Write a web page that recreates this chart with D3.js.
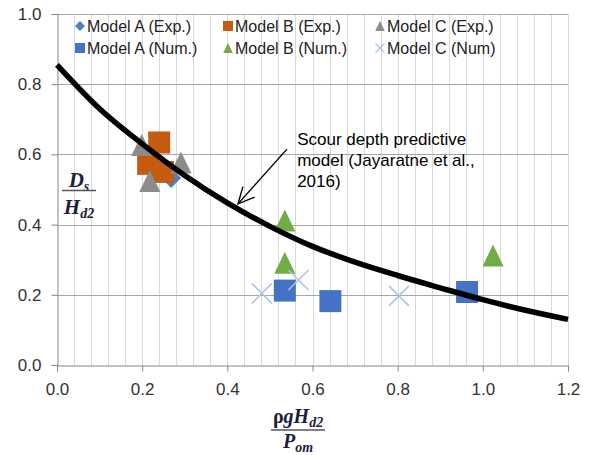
<!DOCTYPE html>
<html>
<head>
<meta charset="utf-8">
<script src="https://cdn.jsdelivr.net/npm/d3@7/dist/d3.min.js"></script>
<style>
body { margin: 0; background: #fff; }
text { font-family: "Liberation Sans", Arial, sans-serif; }
.math { font-family: "Liberation Serif", "Times New Roman", serif; font-weight: bold; font-style: italic; fill: #1c1c3c; }
</style>
</head>
<body>
<svg id="chart" width="590" height="455"></svg>
<script>
// values
var aExpX = [0.268];
var aExpY = [0.533];
var bExpX = [0.214, 0.249, 0.240];
var bExpY = [0.573, 0.550, 0.634];
var cExpX = [0.199, 0.218, 0.291];
var cExpY = [0.627, 0.524, 0.577];
var aNumX = [0.535, 0.642, 0.963];
var aNumY = [0.212, 0.182, 0.208];
var bNumX = [0.535, 0.535, 1.024];
var bNumY = [0.412, 0.291, 0.312];
var cNumX = [0.481, 0.567, 0.803];
var cNumY = [0.204, 0.242, 0.197];

// predictive model curve
var curveX = [0, 0.1, 0.2, 0.3, 0.4, 0.5, 0.6, 0.7, 0.8, 0.9, 1.0, 1.1, 1.2];
var curveY = [0.855, 0.73, 0.63, 0.54, 0.462, 0.395, 0.338, 0.293, 0.255, 0.22, 0.186, 0.156, 0.13];

var xTicks = [0, 0.2, 0.4, 0.6, 0.8, 1.0, 1.2];
var yTicks = [0, 0.2, 0.4, 0.6, 0.8, 1.0];
var noteLines = ["Scour depth predictive", "model (Jayaratne et al.,", "2016)"];

var series = [
    {name: "Model A (Exp.)", xs: aExpX, ys: aExpY, shape: "diamond", color: "#4f81bd"},
    {name: "Model B (Exp.)", xs: bExpX, ys: bExpY, shape: "square", color: "#c55a11"},
    {name: "Model C (Exp.)", xs: cExpX, ys: cExpY, shape: "triangle", color: "#8c8c8c"},
    {name: "Model A (Num.)", xs: aNumX, ys: aNumY, shape: "square", color: "#4472c4"},
    {name: "Model B (Num.)", xs: bNumX, ys: bNumY, shape: "triangle", color: "#70ad47"},
    {name: "Model C (Num)", xs: cNumX, ys: cNumY, shape: "cross", color: "#a9c4eb"}
];

var svg = d3.select("#chart");
var plotLeft = 57, plotRight = 568, plotTop = 14, plotBottom = 365;

var x = d3.scaleLinear().domain([0, 1.2]).range([plotLeft, plotRight]);
var y = d3.scaleLinear().domain([0, 1.0]).range([plotBottom, plotTop]);

var shapePath = function(shape, s) {
    var h = s / 2;
    if (shape == "square") return "M" + (-h) + "," + (-h) + "h" + s + "v" + s + "h" + (-s) + "Z";
    if (shape == "diamond") return "M0," + (-h) + "L" + h + ",0L0," + h + "L" + (-h) + ",0Z";
    if (shape == "triangle") return "M0," + (-h) + "L" + (h * 0.96) + "," + h + "L" + (-h * 0.96) + "," + h + "Z";
    return "M" + (-h) + "," + (-h) + "L" + h + "," + h + "M" + h + "," + (-h) + "L" + (-h) + "," + h;
};

// vertical minor gridlines every 0.04
svg.append("g")
    .selectAll("line")
    .data(d3.range(1, 31).map(function(i) { return i * 0.04; }))
    .enter().append("line")
    .attr("x1", function(d) { return Math.round(x(d)) + 0.5; })
    .attr("x2", function(d) { return Math.round(x(d)) + 0.5; })
    .attr("y1", y(1.0))
    .attr("y2", y(0))
    .attr("stroke", "#d9d9d9")
    .attr("stroke-width", 1);

// horizontal major gridlines
svg.append("g")
    .selectAll("line")
    .data(yTicks.slice(1))
    .enter().append("line")
    .attr("x1", x(0))
    .attr("x2", x(1.2))
    .attr("y1", function(d) { return Math.round(y(d)) + 0.5; })
    .attr("y2", function(d) { return Math.round(y(d)) + 0.5; })
    .attr("stroke", "#a6a6a6")
    .attr("stroke-width", 1);

var xAxis = svg.append("g")
    .attr("transform", "translate(0," + (Math.round(y(0)) + 0.5) + ")")
    .call(d3.axisBottom(x).tickValues(xTicks).tickFormat(d3.format(".1f")).tickSizeOuter(0).tickSize(6).tickPadding(11));
var yAxis = svg.append("g")
    .attr("transform", "translate(" + (Math.round(x(0)) + 0.5) + ",0)")
    .call(d3.axisLeft(y).tickValues(yTicks).tickFormat(d3.format(".1f")).tickSizeOuter(0).tickSize(6).tickPadding(10));

[xAxis, yAxis].forEach(function(ax) {
    ax.select(".domain").attr("stroke", "#868686");
    ax.selectAll(".tick line").attr("stroke", "#868686");
    ax.selectAll(".tick text")
        .attr("fill", "#333")
        .style("font-size", "17px")
        .style("font-family", "'Liberation Sans', Arial, sans-serif");
});

// data markers
series.forEach(function(s) {
    var pts = s.xs.map(function(v, i) { return [v, s.ys[i]]; });
    svg.append("g")
        .selectAll("path")
        .data(pts)
        .enter().append("path")
        .attr("transform", function(d) { return "translate(" + x(d[0]) + "," + y(d[1]) + ")"; })
        .attr("d", shapePath(s.shape, s.shape == "cross" ? 20 : (s.shape == "diamond" ? 20 : 22)))
        .attr("fill", s.shape == "cross" ? "none" : s.color)
        .attr("stroke", s.shape == "cross" ? s.color : "none")
        .attr("stroke-width", 1.5);
});

// predictive model curve
var line = d3.line()
    .x(function(d) { return x(d[0]); })
    .y(function(d) { return y(d[1]); })
    .curve(d3.curveMonotoneX);
svg.append("path")
    .datum(curveX.map(function(v, i) { return [v, curveY[i]]; }))
    .attr("d", line)
    .attr("fill", "none")
    .attr("stroke", "#000")
    .attr("stroke-width", 5.5);

// annotation + arrow
var note = svg.append("text")
    .attr("x", x(0.564))
    .attr("y", y(0.627))
    .style("font-size", "17px")
    .attr("fill", "#000");
note.selectAll("tspan")
    .data(noteLines)
    .enter().append("tspan")
    .attr("x", x(0.564))
    .attr("dy", function(d, i) { return i == 0 ? 0 : 21; })
    .text(function(d) { return d; });

var ax0 = x(0.54), ay0 = y(0.615), ax1 = x(0.425), ay1 = y(0.459);
svg.append("line")
    .attr("x1", ax0).attr("y1", ay0).attr("x2", ax1).attr("y2", ay1)
    .attr("stroke", "#000").attr("stroke-width", 1.4);
var ang = Math.atan2(ay0 - ay1, ax0 - ax1);
var wing = function(sign) {
    var a = ang + sign * 0.45;
    return [ax1 + 18 * Math.cos(a), ay1 + 18 * Math.sin(a)];
};
var w1 = wing(1), w2 = wing(-1);
svg.append("path")
    .attr("d", "M" + w1[0] + "," + w1[1] + "L" + ax1 + "," + ay1 + "L" + w2[0] + "," + w2[1])
    .attr("fill", "none").attr("stroke", "#000").attr("stroke-width", 1.4);

// legend
var legX = [80, 228, 380], legY = [26, 48];
series.forEach(function(s, i) {
    var col = i % 3, row = Math.floor(i / 3);
    var g = svg.append("g").attr("transform", "translate(" + legX[col] + "," + legY[row] + ")");
    g.append("path")
        .attr("d", shapePath(s.shape, s.shape == "cross" ? 9 : 10))
        .attr("fill", s.shape == "cross" ? "none" : s.color)
        .attr("stroke", s.shape == "cross" ? s.color : "none")
        .attr("stroke-width", 1.2);
    g.append("text")
        .attr("x", 7)
        .attr("y", 5.8)
        .style("font-size", "16px")
        .attr("fill", "#222")
        .text(s.name);
});

// y axis label: Ds / Hd2
var yl = svg.append("g").attr("transform", "translate(79,0)");
var num = yl.append("text").attr("class", "math").attr("text-anchor", "middle").attr("y", 187).style("font-size", "21px");
num.append("tspan").text("D");
num.append("tspan").attr("dy", 4).style("font-size", "14px").text("s");
yl.append("line").attr("x1", -17).attr("x2", 17).attr("y1", 190.5).attr("y2", 190.5).attr("stroke", "#555").attr("stroke-width", 1.5);
var den = yl.append("text").attr("class", "math").attr("text-anchor", "middle").attr("y", 214).style("font-size", "21px");
den.append("tspan").text("H");
den.append("tspan").attr("dy", 4).style("font-size", "14px").text("d2");

// x axis label: rho g Hd2 / Pom
var xl = svg.append("g").attr("transform", "translate(298,0)");
var xnum = xl.append("text").attr("class", "math").attr("text-anchor", "middle").attr("y", 423).style("font-size", "20px");
xnum.append("tspan").style("font-style", "normal").text("ρ");
xnum.append("tspan").text("gH");
xnum.append("tspan").attr("dy", 4).style("font-size", "14px").text("d2");
xl.append("line").attr("x1", -27).attr("x2", 27).attr("y1", 430).attr("y2", 430).attr("stroke", "#555").attr("stroke-width", 1.5);
var xden = xl.append("text").attr("class", "math").attr("text-anchor", "middle").attr("y", 448).style("font-size", "20px");
xden.append("tspan").text("P");
xden.append("tspan").attr("dy", 4).style("font-size", "14px").text("om");
</script>
</body>
</html>
